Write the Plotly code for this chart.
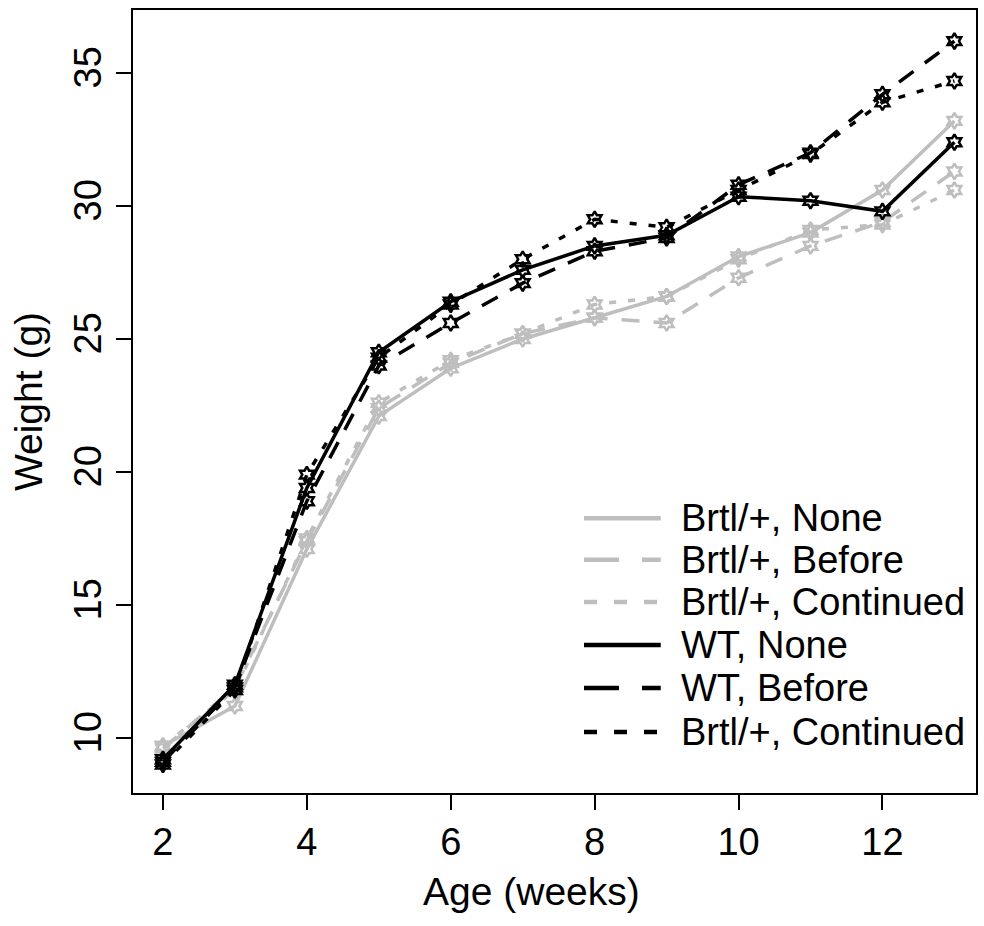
import plotly.graph_objects as go

# Body weight by age for each genotype / treatment group
weeks = [2, 3, 4, 5, 6, 7, 8, 9, 10, 11, 12, 13]

brtl_none = [9.7, 11.2, 17.1, 22.1, 23.9, 25.0, 25.8, 26.6, 28.1, 29.0, 30.6, 33.2]
brtl_before = [9.6, 11.9, 17.4, 22.4, 24.1, 25.2, 25.8, 25.6, 27.3, 28.5, 29.4, 31.3]
brtl_continued = [9.7, 11.8, 17.5, 22.6, 24.2, 25.2, 26.3, 26.6, 28.0, 29.1, 29.3, 30.6]
wt_none = [9.2, 12.0, 19.4, 24.5, 26.4, 27.6, 28.5, 28.9, 30.35, 30.2, 29.8, 32.4]
wt_before = [9.1, 11.9, 18.9, 24.0, 25.6, 27.1, 28.3, 28.8, 30.8, 32.0, 34.2, 36.2]
wt_continued = [9.0, 11.8, 19.9, 24.3, 26.3, 28.0, 29.5, 29.2, 30.6, 31.95, 33.9, 34.7]

legend_labels = ["Brtl/+, None", "Brtl/+, Before", "Brtl/+, Continued",
                 "WT, None", "WT, Before", "Brtl/+, Continued"]

x_ticks = [2, 4, 6, 8, 10, 12]
y_ticks = [10, 15, 20, 25, 30, 35]

GRAY = "#bebebe"
BLACK = "#000000"
FONT = "Liberation Sans, Arial, sans-serif"

series = [
    (brtl_none, GRAY, "solid"),
    (brtl_before, GRAY, "18px,14px"),
    (brtl_continued, GRAY, "7px,12px"),
    (wt_none, BLACK, "solid"),
    (wt_before, BLACK, "18px,14px"),
    (wt_continued, BLACK, "7px,12px"),
]
legend_dash = ["solid", "35px,23px", "13px,17px", "solid", "35px,23px", "13px,17px"]

fig = go.Figure()
for (vals, color, dash), name in zip(series, legend_labels):
    fig.add_trace(go.Scatter(
        x=weeks, y=vals, name=name, mode="lines+markers",
        line=dict(color=color, width=3.5, dash=dash),
        marker=dict(symbol="hexagram-open", size=12, color=color,
                    line=dict(color=color, width=2.5)),
        showlegend=False,
    ))

# Hand-drawn legend in the lower right of the plotting area
row_y = [0.351, 0.298, 0.244, 0.189, 0.134, 0.078]
shapes = []
annotations = []
for (vals, color, dash), ldash, label, ry in zip(series, legend_dash, legend_labels, row_y):
    shapes.append(dict(type="line", xref="paper", yref="paper",
                       x0=0.535, x1=0.626, y0=ry, y1=ry,
                       line=dict(color=color, width=4.5, dash=ldash)))
    annotations.append(dict(xref="paper", yref="paper", x=0.648, y=ry,
                            xanchor="left", yanchor="middle", showarrow=False,
                            text=label, font=dict(family=FONT, size=38, color="black")))

# x-axis title, placed slightly left of the plot centre
annotations.append(dict(xref="paper", yref="paper", x=0.473, y=-0.126,
                        xanchor="center", yanchor="middle", showarrow=False,
                        text="Age (weeks)", font=dict(family=FONT, size=39, color="black")))

fig.update_layout(
    width=984, height=926,
    margin=dict(l=133, r=6, t=10, b=133),
    paper_bgcolor="white", plot_bgcolor="white",
    font=dict(family=FONT, size=38, color="black"),
    shapes=shapes, annotations=annotations,
    showlegend=False,
)
fig.update_xaxes(
    range=[1.584, 13.30], tickvals=x_ticks, ticks="outside", ticklen=15,
    tickwidth=1.5, tickcolor="black", showline=True, linecolor="black",
    linewidth=1.5, mirror=True, showgrid=False, zeroline=False,
    ticklabelstandoff=0,
)
fig.update_yaxes(
    range=[7.93, 37.37], tickvals=y_ticks, ticks="outside", ticklen=15,
    tickwidth=1.5, tickcolor="black", showline=True, linecolor="black",
    linewidth=1.5, mirror=True, showgrid=False, zeroline=False,
    tickangle=-90, title=dict(text="Weight (g)", standoff=12, font=dict(size=39)),
)

fig.write_html("out.html")
